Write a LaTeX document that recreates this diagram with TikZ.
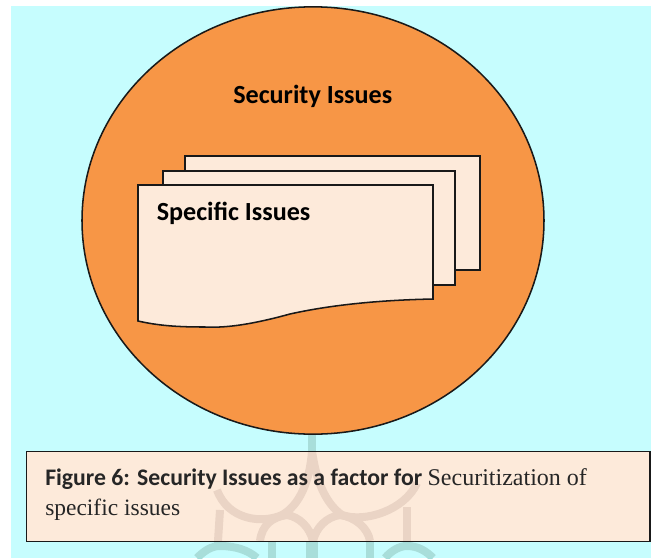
\documentclass[tikz,border=0pt]{standalone}
\usepackage{fontspec}
\setmainfont{Carlito}
\newfontfamily\capserif{Liberation Serif}
\usetikzlibrary{shapes.geometric}
\definecolor{bgcyan}{HTML}{C6FDFE}
\definecolor{orangefill}{HTML}{F79646}
\definecolor{paper}{HTML}{FDEADA}
\definecolor{markteal}{HTML}{A8DEDA}
\definecolor{markbrown}{HTML}{EAD4C5}
\tikzset{
  outline/.style={draw=black!90,line width=1.15pt,line join=miter},
  sheet/.style={outline,fill=paper},
  heading/.style={anchor=base west,inner sep=0pt,font=\bfseries\fontsize{19.6pt}{24pt}\selectfont,text=black},
  capline/.style={anchor=base west,inner sep=0pt,font=\fontsize{18pt}{22pt}\selectfont,text=black!85},
  markb/.style={markbrown,line width=6pt},
  markt/.style={markteal,line width=6pt}
}
\begin{document}
\begin{tikzpicture}[x=0.75pt,y=-0.75pt]
\useasboundingbox (0,0) rectangle (651,558);
\fill[bgcyan] (11,6) rectangle (651,558);
% watermark outside the caption
\draw[markt] (312,434) -- (312,451);
\draw[markt,line width=9pt] (312,541) -- (312,558);
\draw[markt] (272,541) -- (272,558);
\draw[markt] (370,541) -- (370,558);
\draw[markt] (197,558) .. controls (205,550) and (212,546) .. (220,546) .. controls (235,546) and (248,550) .. (257,558);
\draw[markt] (385,558) .. controls (392,550) and (400,546) .. (407,546) .. controls (418,546) and (426,551) .. (433,558);
\draw[markt] (218,541) -- (218,547);
\draw[markt] (407,541) -- (407,547);
\node[ellipse,outline,fill=orangefill,minimum width=346.5pt,minimum height=320.5pt,inner sep=0pt] (circle) at (313,220.5) {};
\draw[sheet] (185,156) rectangle (480,270);
\draw[sheet] (163,171) rectangle (455,285);
\draw[sheet] (138,185) -- (433,185) -- (433,299)
  .. controls (385,300) and (335,304) .. (290,314)
  .. controls (250,325) and (225,328) .. (205,327)
  .. controls (180,327) and (160,326) .. (138,321) -- cycle;
\node[heading] (sec) at (233,103) {Security Issues};
\node[heading] (spec) at (156.5,220) {Specific Issues};
\draw[outline,fill=paper] (26.5,451.5) rectangle (650,541.5);
% watermark inside the caption
\begin{scope}
\clip (27,452) rectangle (650,541);
\draw[markb] (312,451) .. controls (310,480) and (300,505) .. (282,515) .. controls (262,524) and (228,520) .. (217,490);
\draw[markb] (312,451) .. controls (316,480) and (325,503) .. (342,515) .. controls (365,523) and (405,510) .. (417,483);
\draw[markb] (220,510) -- (218,541);
\draw[markb] (407,507) -- (407,541);
\draw[markb] (260,541) .. controls (262,525) and (272,517) .. (287,515) .. controls (300,517) and (310,528) .. (313,541);
\draw[markb] (313,541) .. controls (316,528) and (326,517) .. (340,515) .. controls (355,517) and (368,528) .. (370,541);
\end{scope}
\node[capline] (cap1) at (45,485) {{\bfseries\fontsize{17.8pt}{22pt}\selectfont Figure 6: Security Issues as a factor for} {\capserif Securitization of}};
\node[capline] (cap2) at (45,515) {\capserif\fontsize{17.6pt}{22pt}\selectfont specific issues};
\draw[outline] (26.5,451.5) rectangle (650,541.5);
\end{tikzpicture}
\end{document}
